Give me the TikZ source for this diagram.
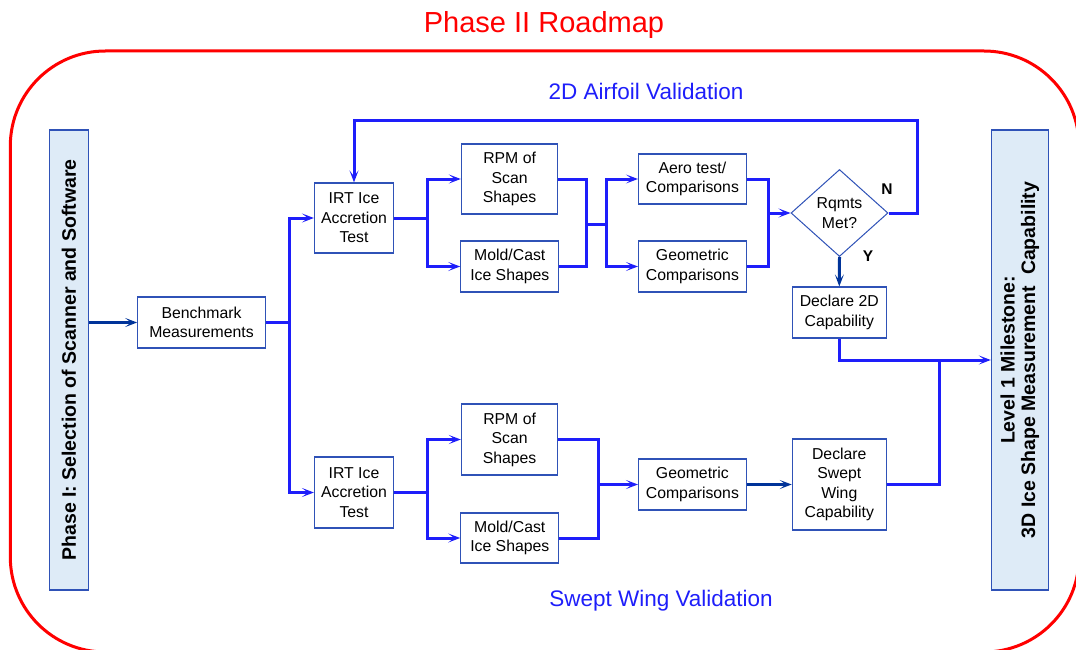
\documentclass[tikz,border=0pt]{standalone}
\usepackage{fontspec}
\setmainfont{Liberation Sans}
\usetikzlibrary{arrows.meta,shapes.geometric}
\newlength{\du}
\setlength{\du}{1pt}
\definecolor{boxline}{RGB}{47,82,183}
\definecolor{phasefill}{RGB}{222,235,247}
\definecolor{linkblue}{RGB}{30,30,250}
\definecolor{darkblue}{RGB}{0,51,153}
\definecolor{framered}{RGB}{255,0,0}

\begin{document}
\begin{tikzpicture}[
  box/.style={draw=boxline, line width=1.2\du, fill=white, inner sep=0pt, align=center,
    font=\fontsize{15.8}{19.5}\selectfont},
  phasebox/.style={draw=boxline, line width=1.2\du, fill=phasefill, inner sep=0pt, align=center,
    rotate=90, font=\fontsize{19.5}{20.5}\selectfont\bfseries},
  link/.style={draw=linkblue, line width=3\du},
  darklink/.style={draw=darkblue, line width=3\du},
  arr/.style={-{Stealth[length=12pt,width=9pt,inset=6pt]}},
  yn/.style={font=\fontsize{15.5}{18}\selectfont\bfseries},
  phasetitle/.style={text=linkblue, font=\fontsize{22.5}{26}\selectfont},
]
\pgftransformxscale{1.000000}
\pgftransformyscale{-1.000000}
\useasboundingbox (0\du,0\du) rectangle (1076\du,650\du);
\draw[framered, line width=3\du, rounded corners=95pt] (10.3\du,51\du) rectangle (1079\du,652\du);
\node[text=framered, font=\fontsize{29}{34}\selectfont] (title) at (544\du,25\du) {Phase II Roadmap};
\node[phasetitle] (airfoil) at (646\du,91\du) {2D Airfoil Validation};
\node[phasetitle] (swept) at (661\du,601\du) {Swept Wing Validation};
% phases
\node[phasebox, minimum width=460\du, minimum height=39.6\du] (phaseI) at (69\du,360\du) {Phase I: Selection of Scanner and Software};
\node[phasebox, minimum width=460\du, minimum height=57\du] (level1) at (1019.9\du,360\du) {Level 1 Milestone:\\3D Ice Shape Measurement~~Capability};
% boxes
\node[box, minimum width=127.5\du, minimum height=51\du] (bench) at (201.5\du,322.5\du) {Benchmark\\Measurements};
\node[box, minimum width=79\du, minimum height=70\du] (irtA) at (354\du,218\du) {IRT Ice\\Accretion\\Test};
\node[box, minimum width=79\du, minimum height=71\du] (irtB) at (354\du,492.5\du) {IRT Ice\\Accretion\\Test};
\node[box, minimum width=96.4\du, minimum height=70\du] (rpmA) at (509.6\du,179\du) {RPM of\\Scan\\Shapes};
\node[box, minimum width=98\du, minimum height=51\du] (moldA) at (509.8\du,266.5\du) {Mold/Cast\\Ice Shapes};
\node[box, minimum width=96.4\du, minimum height=71\du] (rpmB) at (509.6\du,439.5\du) {RPM of\\Scan\\Shapes};
\node[box, minimum width=98\du, minimum height=50\du] (moldB) at (509.8\du,538\du) {Mold/Cast\\Ice Shapes};
\node[box, minimum width=107.7\du, minimum height=50\du] (aero) at (692.4\du,179\du) {Aero test/\\Comparisons};
\node[box, minimum width=107.7\du, minimum height=51\du] (geoA) at (692.4\du,266.5\du) {Geometric\\Comparisons};
\node[box, minimum width=107.7\du, minimum height=51\du] (geoB) at (692.4\du,484.5\du) {Geometric\\Comparisons};
\node[box, shape=diamond, line width=1\du, minimum width=97\du, minimum height=87\du] (rqmts) at (839.5\du,213\du) {Rqmts\\Met?};
\node[box, minimum width=94\du, minimum height=51\du] (decl2D) at (839.3\du,312.5\du) {Declare 2D\\Capability};
\node[box, minimum width=94\du, minimum height=91\du] (declSW) at (839.3\du,484.5\du) {Declare\\Swept\\Wing\\Capability};
\node[yn] (no) at (887\du,189\du) {N};
\node[yn] (yes) at (868\du,256\du) {Y};
% junctions
\coordinate (jBench) at (289.3\du,322.5\du);
\coordinate (jIrtA) at (427\du,218\du);
\coordinate (jIrtB) at (427\du,492.5\du);
\coordinate (jShapeA) at (586.2\du,224\du);
\coordinate (jCompA) at (606\du,224\du);
\coordinate (jShapeB) at (598\du,484.5\du);
\coordinate (jAero) at (768\du,213\du);
\coordinate (jLoop) at (917.8\du,121\du);
\coordinate (jDone) at (939\du,360\du);
% connectors
\draw[darklink, arr] (phaseI.south |- bench.west) -- (bench.west);
\draw[link] (bench.east) -- (jBench);
\draw[link, arr] (jBench) |- (irtA.west);
\draw[link, arr] (jBench) |- (irtB.west);
\draw[link] (irtA.east) -- (jIrtA);
\draw[link, arr] (jIrtA) |- (rpmA.west);
\draw[link, arr] (jIrtA) |- (moldA.west);
\draw[link] (rpmA.east) -| (jShapeA) |- (moldA.east);
\draw[link] (jShapeA) -- (jCompA);
\draw[link, arr] (jCompA) |- (aero.west);
\draw[link, arr] (jCompA) |- (geoA.west);
\draw[link] (aero.east) -| (jAero) |- (geoA.east);
\draw[link, arr] (jAero) -- (rqmts.west);
\draw[link, arr] (rqmts.east) -| (jLoop) -| (irtA.north);
\draw[darklink, arr] (rqmts.south) -- (decl2D.north);
\draw[link, arr] (decl2D.south) |- (level1.north);
\draw[link] (declSW.east) -| (jDone);
\draw[link] (irtB.east) -- (jIrtB);
\draw[link, arr] (jIrtB) |- (rpmB.west);
\draw[link, arr] (jIrtB) |- (moldB.west);
\draw[link] (rpmB.east) -| (jShapeB) |- (moldB.east);
\draw[link, arr] (jShapeB) -- (geoB.west);
\draw[darklink, arr] (geoB.east) -- (declSW.west);
\end{tikzpicture}
\end{document}
